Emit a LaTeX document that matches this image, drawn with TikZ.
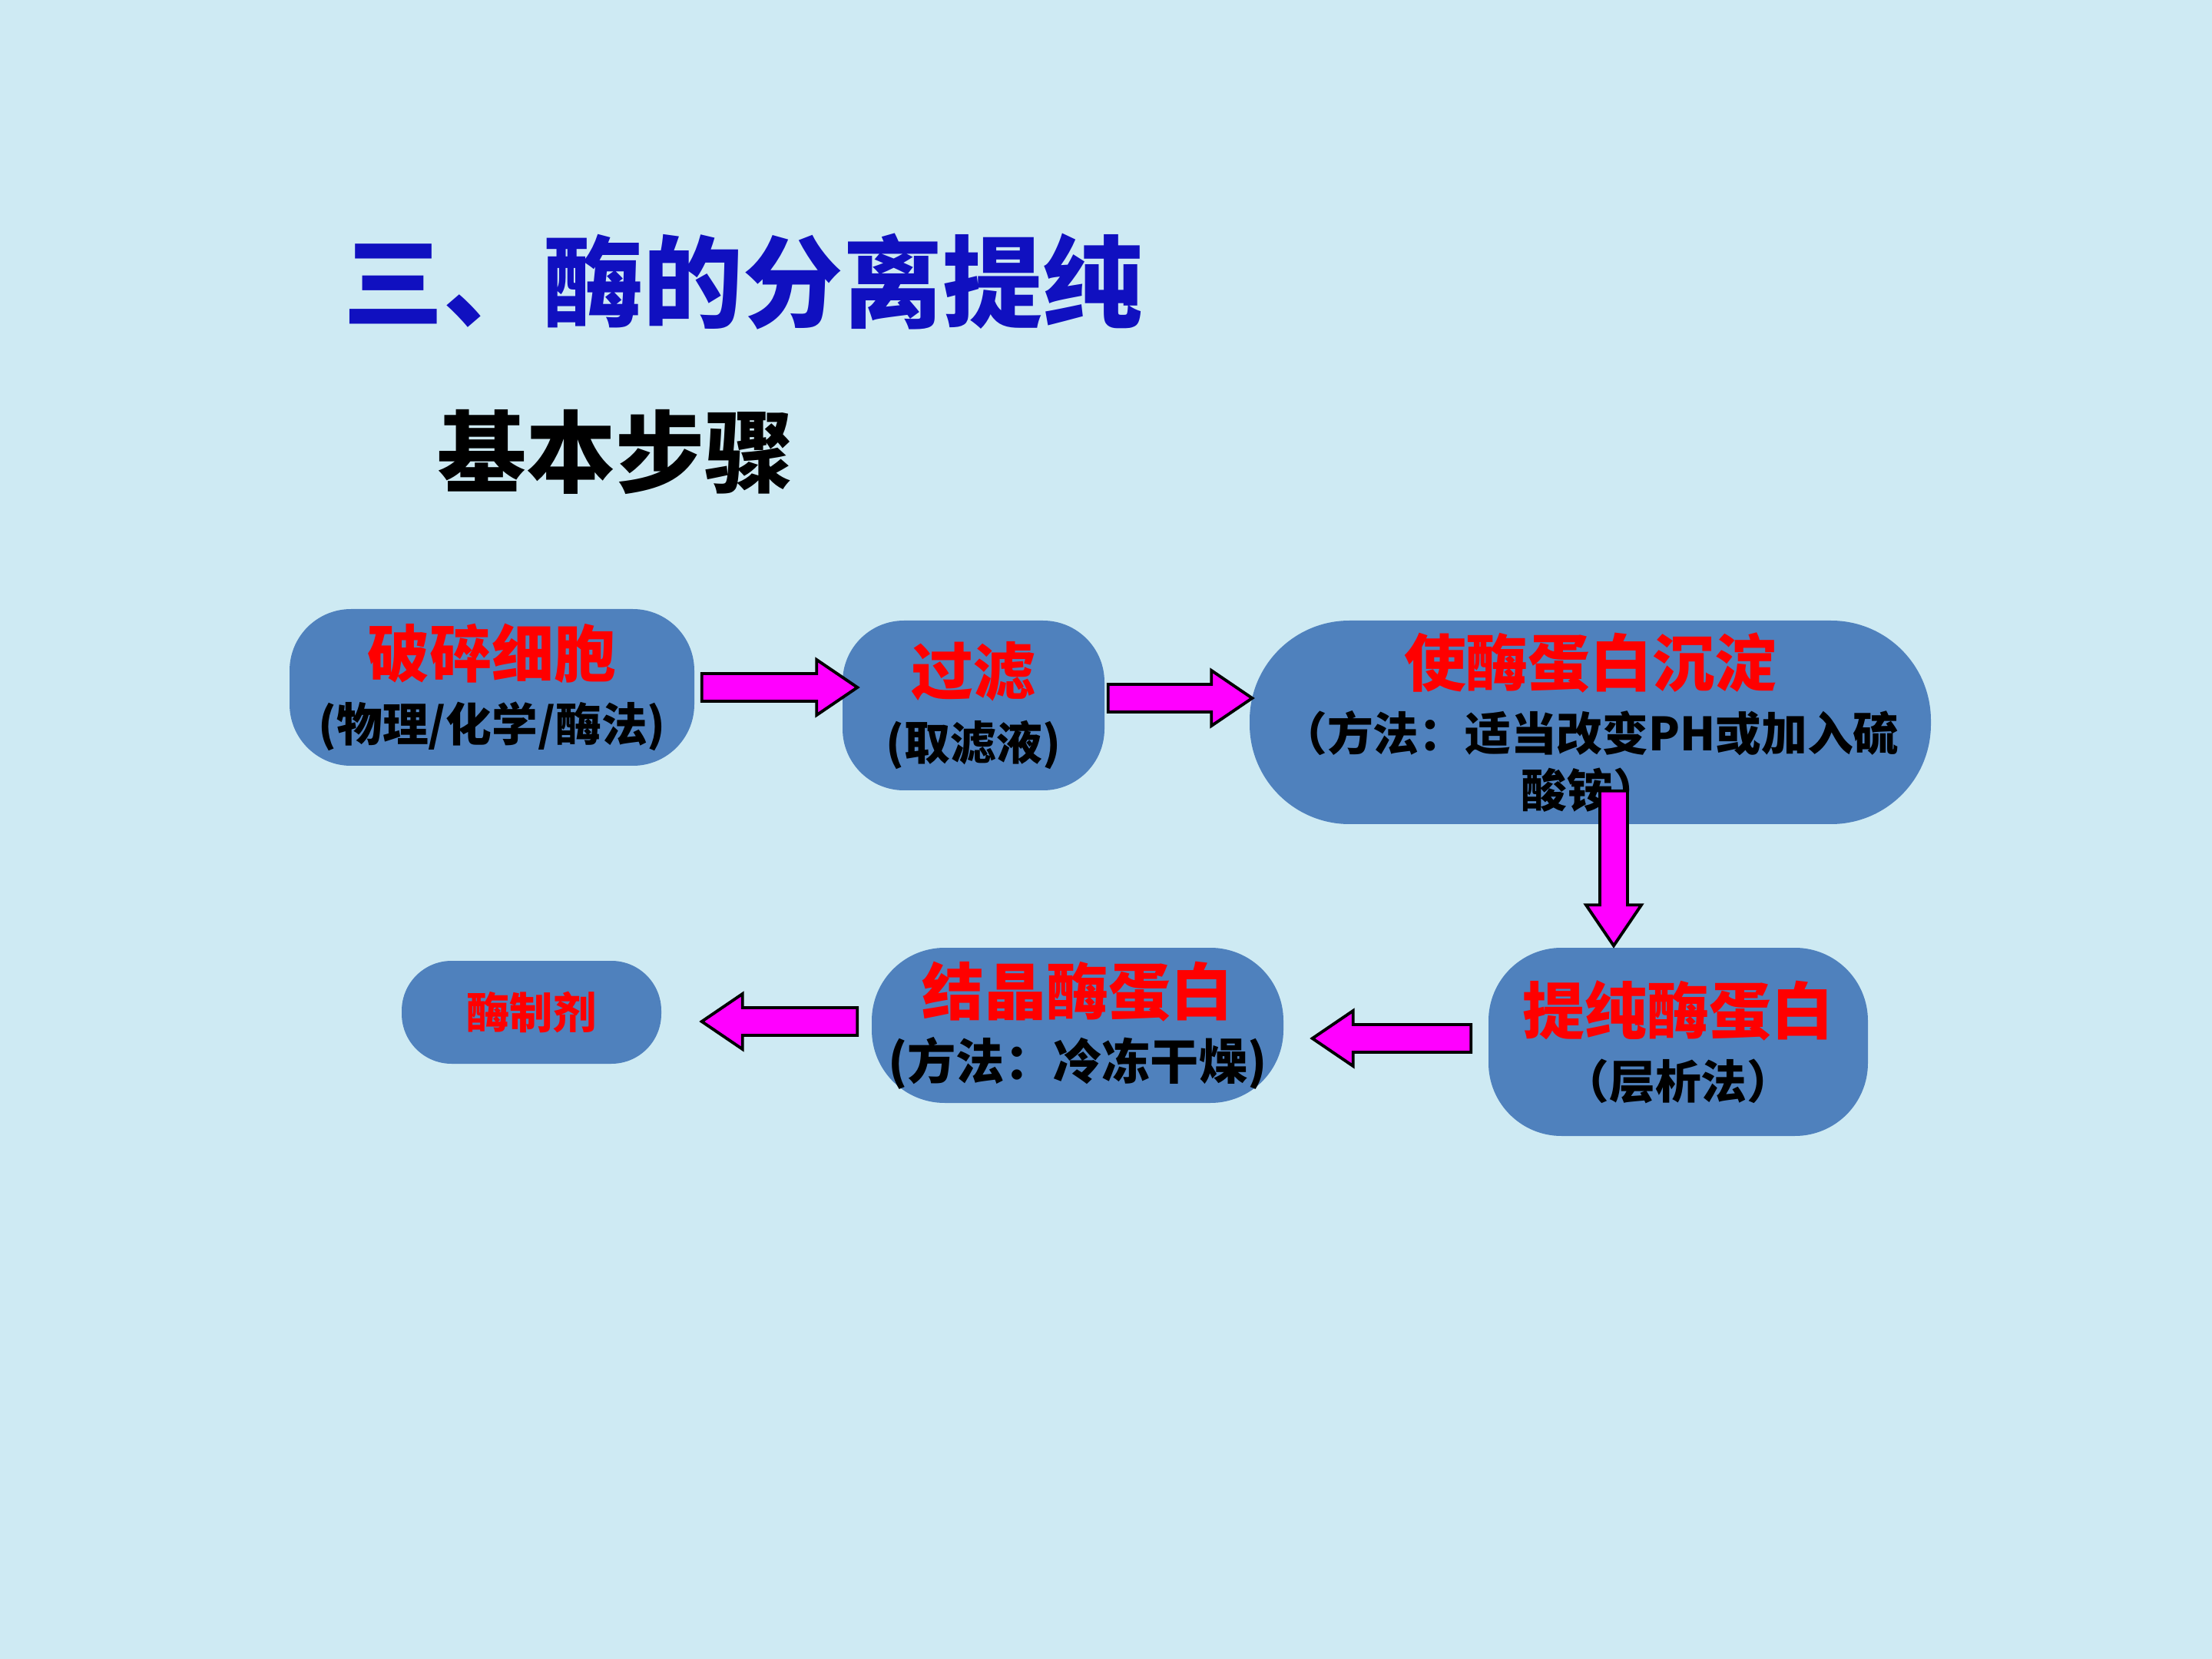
\documentclass[tikz,border=0pt]{standalone}
\usepackage{fontspec}
\setmainfont{Noto Sans CJK SC}
\usetikzlibrary{calc}

\definecolor{paper}{RGB}{206,234,243}
\definecolor{boxblue}{RGB}{79,129,189}
\definecolor{titleblue}{RGB}{16,16,192}
\definecolor{arrowpink}{RGB}{255,0,255}

\newcommand{\shafthalf}{0.18cm}
\newcommand{\headhalf}{0.36cm}
\newcommand{\headlen}{0.53cm}
\newcommand{\redline}[1]{{\fontsize{23}{24}\selectfont\color{red}#1}}

\tikzset{
  stepbox/.style={fill=boxblue, align=center, inner sep=0pt,
    font=\fontsize{17}{21}\selectfont\bfseries},
  fatarrow/.style={draw=black, line width=1.1pt, fill=arrowpink, line join=miter,
    to path={let \p1=($(\tikztotarget)-(\tikztostart)$),
      \n1={atan2(\y1,\x1)}, \n2={veclen(\x1,\y1)} in
      -- ($(\tikztostart)+(\n1+90:\shafthalf)$)
      -- ($(\tikztostart)+(\n1:\n2-\headlen)+(\n1+90:\shafthalf)$)
      -- ($(\tikztostart)+(\n1:\n2-\headlen)+(\n1+90:\headhalf)$)
      -- (\tikztotarget)
      -- ($(\tikztostart)+(\n1:\n2-\headlen)+(\n1-90:\headhalf)$)
      -- ($(\tikztostart)+(\n1:\n2-\headlen)+(\n1-90:\shafthalf)$)
      -- ($(\tikztostart)+(\n1-90:\shafthalf)$) -- cycle}},
}

\begin{document}
\begin{tikzpicture}
    \fill[paper] (0,0) rectangle (28.8,-21.6);

    % headings
    \node[anchor=west, text=titleblue, font=\fontsize{37}{40}\selectfont\bfseries] (title) at (4.35,-3.67) {三、酶的分离提纯};
    \node[anchor=west, font=\fontsize{33}{36}\selectfont\bfseries] (steps) at (5.57,-5.88) {基本步骤};

    % the six steps
    \node[stepbox, minimum width=5.27cm, minimum height=2.04cm, rounded corners=0.8cm] (brk) at (6.405,-8.95) {\redline{破碎细胞}\\[3pt](物理/化学/酶法)};
    \node[stepbox, minimum width=3.41cm, minimum height=2.21cm, rounded corners=0.8cm] (flt) at (12.675,-9.185) {\redline{过滤}\\[3pt](取滤液)};
    \node[stepbox, minimum width=8.87cm, minimum height=2.65cm, rounded corners=1.3cm] (prc) at (20.705,-9.405) {\redline{使酶蛋白沉淀}\\[3pt]（方法：适当改变PH或加入硫\\酸铵）};
    \node[stepbox, minimum width=4.94cm, minimum height=2.45cm, rounded corners=0.95cm] (pur) at (21.85,-13.565) {\redline{提纯酶蛋白}\\[3pt]（层析法）};
    \node[stepbox, minimum width=5.36cm, minimum height=2.02cm, rounded corners=0.95cm, font=\fontsize{18}{21}\selectfont\bfseries] (cry) at (14.03,-13.35) {\redline{结晶酶蛋白}\\[3pt](方法：冷冻干燥)};
    \node[stepbox, minimum width=3.38cm, minimum height=1.34cm, rounded corners=0.65cm, text=red, font=\fontsize{16}{18}\selectfont\bfseries] (prep) at (6.92,-13.18) {酶制剂};

    % arrow ends
    \coordinate (a1s) at ($(brk.east)+(0.09,0)$);
    \coordinate (a1e) at ($(a1s -| flt.west)+(0.2,0)$);
    \coordinate (a2s) at ($(flt.east)+(0.04,0.095)$);
    \coordinate (a2e) at ($(a2s -| prc.west)+(0.04,0)$);
    \coordinate (a3s) at ($(prc.south)+(0.305,0.44)$);
    \coordinate (a3e) at ($(a3s |- pur.north)+(0,0.02)$);
    \coordinate (a4s) at ($(pur.west)+(-0.22,0.045)$);
    \coordinate (a4e) at ($(a4s -| cry.east)+(0.37,0)$);
    \coordinate (a5s) at ($(cry.west)+(-0.18,0.05)$);
    \coordinate (a5e) at ($(a5s -| prep.east)+(0.52,0)$);

    \draw[fatarrow] (a1s) to (a1e);
    \draw[fatarrow] (a2s) to (a2e);
    \draw[fatarrow] (a3s) to (a3e);
    \draw[fatarrow] (a4s) to (a4e);
    \draw[fatarrow] (a5s) to (a5e);
\end{tikzpicture}
\end{document}
